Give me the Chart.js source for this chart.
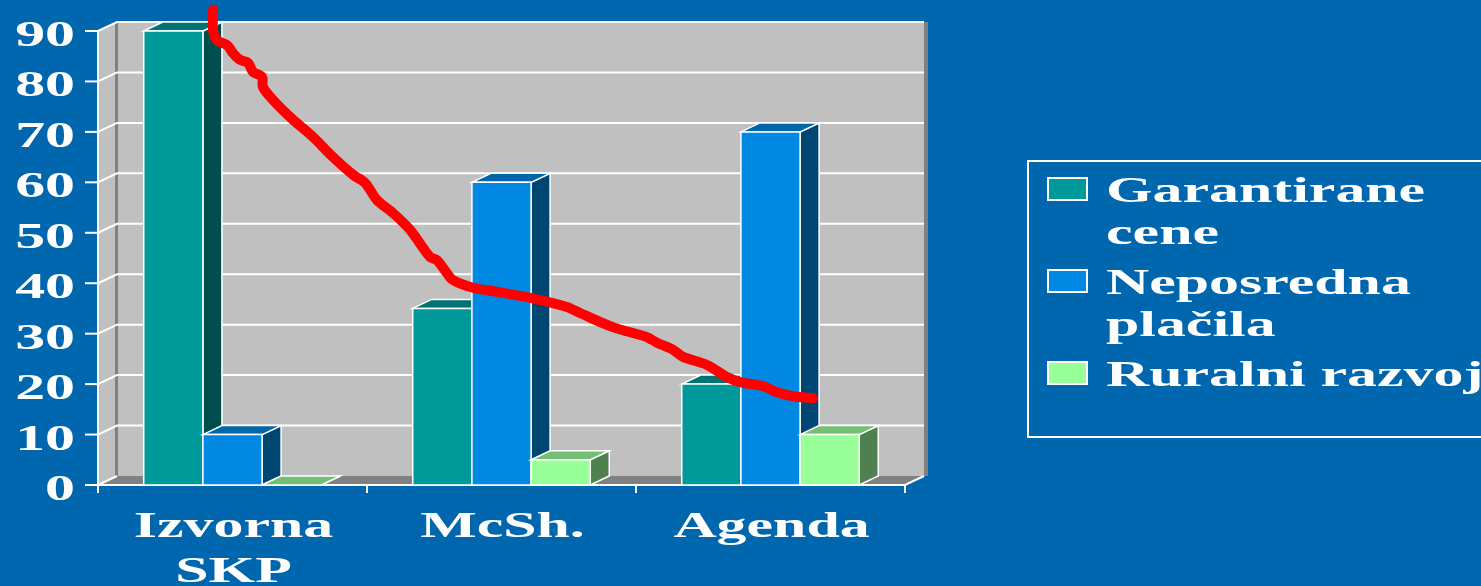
<!DOCTYPE html>
<html>
<head>
<meta charset="utf-8">
<script src="https://cdn.jsdelivr.net/npm/chart.js@4.4.0/dist/chart.umd.min.js"></script>
<style>
  html, body { margin: 0; padding: 0; background: #0066AE; overflow: hidden; }
  #wrap { width: 1481px; height: 586px; position: relative; }
  #wrap canvas { position: absolute; left: 0; top: 0; }
</style>
</head>
<body>
<div id="wrap">
  <canvas id="chart" width="1481" height="586"></canvas>
  <canvas id="trend" width="1481" height="586"></canvas>
</div>
<script>
// Data
const categories = [['Izvorna', 'SKP'], ['McSh.'], ['Agenda']];
const seriesNames = [['Garantirane', 'cene'], ['Neposredna', 'plačila'], ['Ruralni razvoj']];
const garantiraneCene = [90, 35, 20];
const neposrednaPlacila = [10, 60, 70];
const ruralniRazvoj = [0, 5, 10];
const yTicks = [0, 10, 20, 30, 40, 50, 60, 70, 80, 90];

// hand-drawn red trend, x in category units (0 = first group), y in axis units
const trendX = [-0.072, -0.072, -0.058, -0.020, 0.002, 0.028, 0.058, 0.076, 0.110, 0.113, 0.151, 0.225,
    0.299, 0.374, 0.448, 0.493, 0.537, 0.597, 0.660, 0.734, 0.760, 0.797, 0.820, 0.894, 0.983, 1.106,
    1.243, 1.292, 1.414, 1.541, 1.578, 1.638, 1.675, 1.764, 1.838, 1.887, 1.972, 2.024, 2.084, 2.158];
const trendY = [94.2, 90.2, 88.2, 87.2, 85.6, 84.3, 83.7, 81.9, 80.9, 78.9, 76.3, 72.4,
    69.0, 65.0, 61.5, 59.9, 56.5, 53.9, 50.6, 45.2, 44.6, 42.0, 40.6, 39.1, 38.3, 37.1,
    35.3, 34.1, 31.3, 29.3, 28.2, 26.8, 25.4, 23.8, 21.4, 20.4, 19.6, 18.4, 17.6, 17.2];

const frontColors = ['#009999', '#0088E2', '#99FF99'];
const topColors = ['#007373', '#0066AA', '#73BF73'];
const sideColors = ['#004D4D', '#004673', '#4F804F'];

const DX = 19, DY = -9;
const FONT = 'bold 35px "Liberation Serif", "Times New Roman", serif';
const SX = 1.71;
const PADDING = { left: 98, right: 576, top: 31, bottom: 101 };

function poly(ctx, pts, fill) {
    ctx.beginPath();
    pts.forEach(([x, y], i) => i ? ctx.lineTo(x, y) : ctx.moveTo(x, y));
    ctx.closePath();
    ctx.fillStyle = fill;
    ctx.fill();
    ctx.stroke();
}

function stretchText(ctx, text, x, y, align) {
    ctx.save();
    ctx.translate(x, y);
    ctx.scale(SX, 1);
    ctx.textAlign = align;
    ctx.fillText(text, 0, 0);
    ctx.restore();
}

const frame3d = {
    id: 'frame3d',
    beforeDatasetsDraw(chart) {
        const ctx = chart.ctx;
        const { left, right, top, bottom } = chart.chartArea;
        const ys = chart.scales.y;
        ctx.save();

        // back wall, left wall, floor
        ctx.fillStyle = '#C0C0C0';
        ctx.fillRect(left + DX, top + DY, right - left, bottom - top);
        ctx.fillStyle = '#808080';
        ctx.fillRect(right + DX, top + DY, 4, bottom - top);
        ctx.strokeStyle = 'rgba(0,0,0,0)';
        poly(ctx, [[left, top], [left + DX, top + DY], [left + DX, bottom + DY], [left, bottom]], '#C0C0C0');
        ctx.fillStyle = '#808080';
        ctx.fillRect(left + DX - 2, top + DY, 3, bottom - top);
        poly(ctx, [[left, bottom], [left + DX, bottom + DY], [right + DX, bottom + DY], [right, bottom]], '#808080');

        // gridlines
        ctx.strokeStyle = '#FFFFFF';
        ctx.lineWidth = 2;
        yTicks.forEach(v => {
            const y = ys.getPixelForValue(v);
            ctx.beginPath();
            ctx.moveTo(left, y);
            ctx.lineTo(left + DX, y + DY);
            if (v > 0) ctx.lineTo(right + DX, y + DY);
            ctx.stroke();
            ctx.beginPath();
            ctx.moveTo(left - 13, y);
            ctx.lineTo(left, y);
            ctx.stroke();
        });

        // axes
        ctx.beginPath();
        ctx.moveTo(left, top);
        ctx.lineTo(left, bottom);
        ctx.lineTo(right, bottom);
        ctx.lineTo(right + DX, bottom + DY);
        ctx.stroke();
        for (let i = 0; i <= categories.length; i++) {
            const x = left + i * (right - left) / categories.length;
            ctx.beginPath();
            ctx.moveTo(x, bottom);
            ctx.lineTo(x, bottom + 8);
            ctx.stroke();
        }

        // 3D bars, group by group so later bars cover earlier side faces
        ctx.lineWidth = 1.5;
        ctx.strokeStyle = '#FFFFFF';
        const barMetas = chart.data.datasets.map((d, i) => chart.getDatasetMeta(i));
        for (let i = 0; i < categories.length; i++) {
            barMetas.forEach((meta, d) => {
                const el = meta.data[i];
                const x0 = el.x - el.width / 2, x1 = el.x + el.width / 2;
                const yT = el.y, yB = el.base;
                poly(ctx, [[x1, yT], [x1 + DX, yT + DY], [x1 + DX, yB + DY], [x1, yB]], sideColors[d]);
                poly(ctx, [[x0, yT], [x0 + DX, yT + DY], [x1 + DX, yT + DY], [x1, yT]], topColors[d]);
                if (yB - yT > 0.5) poly(ctx, [[x0, yT], [x1, yT], [x1, yB], [x0, yB]], frontColors[d]);
            });
        }

        // tick labels
        ctx.fillStyle = '#FFFFFF';
        ctx.font = FONT;
        ctx.textBaseline = 'alphabetic';
        yTicks.forEach(v => stretchText(ctx, String(v), 75, ys.getPixelForValue(v) + 15, 'right'));
        const xs = chart.scales.x;
        categories.forEach((lines, i) => {
            const cx = xs.getPixelForValue(i);
            lines.forEach((t, k) => stretchText(ctx, t, cx + 1, 537 + k * 45, 'center'));
        });
        ctx.restore();
    },
    beforeDatasetDraw() {
        return false;
    },
    afterDraw(chart) {
        // legend box on the right
        const ctx = chart.ctx;
        ctx.save();
        ctx.strokeStyle = '#FFFFFF';
        ctx.lineWidth = 2;
        ctx.strokeRect(1028, 161, 500, 276);
        ctx.font = FONT;
        ctx.textBaseline = 'alphabetic';
        const itemTops = [178, 270, 362];
        seriesNames.forEach((lines, d) => {
            const y0 = itemTops[d];
            ctx.fillStyle = frontColors[d];
            ctx.fillRect(1048, y0, 39, 22);
            ctx.strokeRect(1048, y0, 39, 22);
            ctx.fillStyle = '#FFFFFF';
            lines.forEach((t, k) => stretchText(ctx, t, 1106, y0 + 24 + k * 42, 'left'));
        });
        ctx.restore();
    }
};

new Chart(document.getElementById('chart'), {
    type: 'bar',
    data: {
        labels: categories.map(c => c.join(' ')),
        datasets: [
            { label: seriesNames[0].join(' '), data: garantiraneCene, backgroundColor: frontColors[0] },
            { label: seriesNames[1].join(' '), data: neposrednaPlacila, backgroundColor: frontColors[1] },
            { label: seriesNames[2].join(' '), data: ruralniRazvoj, backgroundColor: frontColors[2] }
        ]
    },
    options: {
        responsive: false,
        animation: false,
        devicePixelRatio: 1,
        layout: { padding: PADDING },
        datasets: { bar: { categoryPercentage: 0.66, barPercentage: 1 } },
        scales: {
            x: { display: false, offset: true },
            y: { display: false, min: 0, max: 90 }
        },
        plugins: { legend: { display: false }, tooltip: { enabled: false } }
    },
    plugins: [frame3d]
});

// red hand-drawn line on a transparent chart laid over the bars
new Chart(document.getElementById('trend'), {
    type: 'line',
    data: {
        datasets: [{
            label: 'trend',
            data: trendX.map((x, i) => ({ x: x, y: trendY[i] })),
            borderColor: '#FF0000',
            borderWidth: 10,
            borderCapStyle: 'round',
            borderJoinStyle: 'round',
            pointRadius: 0,
            tension: 0.3,
            clip: false
        }]
    },
    options: {
        responsive: false,
        animation: false,
        devicePixelRatio: 1,
        layout: { padding: PADDING },
        scales: {
            x: { type: 'linear', display: false, offset: false, min: -0.5, max: 2.5 },
            y: { display: false, min: 0, max: 90 }
        },
        plugins: { legend: { display: false }, tooltip: { enabled: false } }
    }
});
</script>
</body>
</html>
